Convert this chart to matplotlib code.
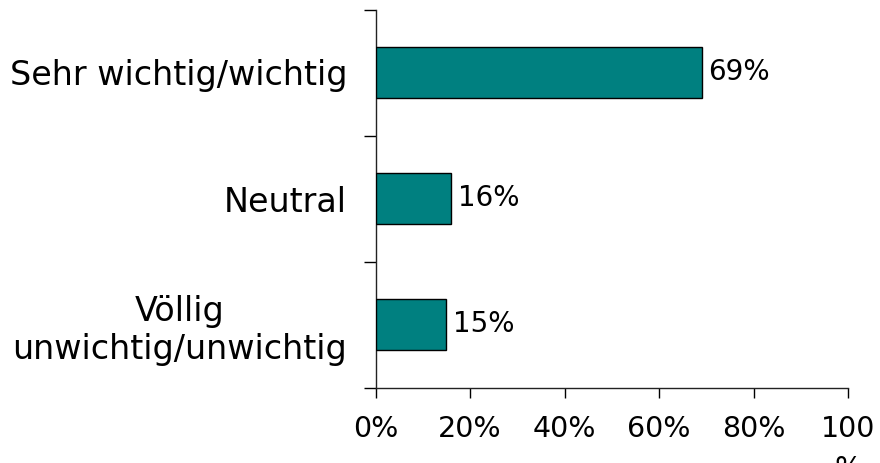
import matplotlib
matplotlib.use("Agg")
import matplotlib.pyplot as plt
import numpy as np

categories = ["Sehr wichtig/wichtig", "Neutral", "Völlig\nunwichtig/unwichtig"]
values = [69, 16, 15]
xtick_values = [0, 20, 40, 60, 80, 100]
xtick_labels = ["0%", "20%", "40%", "60%", "80%", "100\n%"]

plt.rcParams['font.family'] = ['DejaVu Sans']

fig = plt.figure(figsize=(8.8, 4.63), dpi=100)
ax = fig.add_axes([375.5/880, 1 - 387.5/463, (848 - 375.5)/880, (387.5 - 9.5)/463])

n = len(categories)
ypos = np.arange(n)
ax.barh(ypos, values, height=0.4, color="#008080", edgecolor="black", linewidth=1.0, zorder=3)
ax.set_ylim(n - 0.5, -0.5)
ax.set_xlim(0, 100)

for y, v in zip(ypos, values):
    ax.text(v + 1.4, y, f"{v}%", va="center", ha="left", fontsize=20)

ax.set_yticks(ypos)
ax.set_yticklabels(categories, fontsize=24, linespacing=1.2)
for lbl in ax.get_yticklabels():
    lbl.set_multialignment("center")
ax.tick_params(axis="y", which="major", length=0, pad=20.5)
ax.set_yticks(np.arange(n + 1) - 0.5, minor=True)
ax.tick_params(axis="y", which="minor", length=8.5, width=1.0, direction="out")

ax.set_xticks(xtick_values)
ax.set_xticklabels(xtick_labels, fontsize=20.5, linespacing=1.55, va="top")
ax.tick_params(axis="x", length=7, width=1.0, direction="out", pad=13)

for s in ["top", "right"]:
    ax.spines[s].set_visible(False)
for s in ["left", "bottom"]:
    ax.spines[s].set_linewidth(1.0)
    ax.spines[s].set_color("#222222")

fig.savefig("out.png", dpi=100)
